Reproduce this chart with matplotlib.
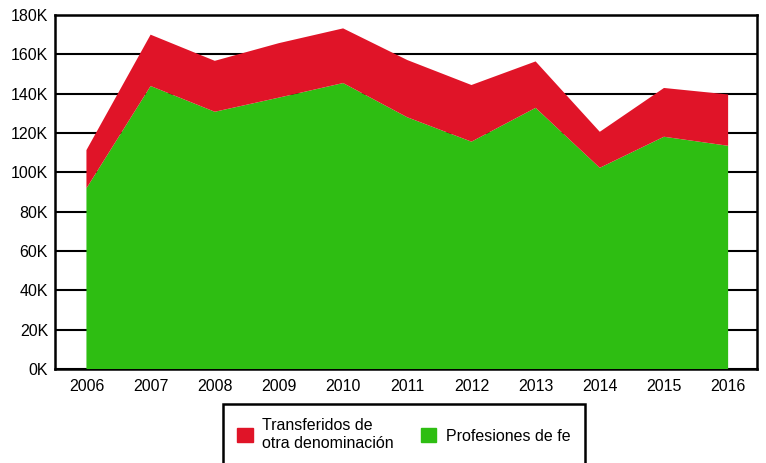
import matplotlib
matplotlib.use("Agg")
import matplotlib.pyplot as plt
from matplotlib.patches import Patch
from matplotlib.ticker import FuncFormatter

years = ["2006", "2007", "2008", "2009", "2010", "2011", "2012", "2013", "2014", "2015", "2016"]
profesiones = [91900, 143900, 130800, 138000, 145400, 128000, 115600, 132800, 102300, 118100, 113500]
total = [111300, 170000, 156700, 165700, 173200, 157100, 144400, 156400, 120600, 142900, 139600]
transferidos = [t - p for t, p in zip(total, profesiones)]

red = "#E01428"
green = "#2EBE12"

plt.rcParams['font.family'] = ['Liberation Sans', 'DejaVu Sans']

fig = plt.figure(figsize=(7.66, 4.63), dpi=100)
ax = fig.add_axes([55/766, 1-369/463, (757-55)/766, (369-15)/463])

x = list(range(len(years)))
ax.stackplot(x, profesiones, transferidos, colors=[green, red], linewidth=0, zorder=3)

ax.set_ylim(0, 180000)
ax.set_xlim(-0.49, 10.45)
ax.set_yticks(range(0, 180001, 20000))
ax.yaxis.set_major_formatter(FuncFormatter(lambda v, p: f"{int(v/1000)}K"))
ax.set_xticks(x)
ax.set_xticklabels(years)
ax.grid(axis='y', color='black', linewidth=1.5, zorder=1)
ax.set_axisbelow(True)
ax.tick_params(axis='both', length=0, labelsize=11.5, colors='black')
ax.tick_params(axis='y', pad=5)
ax.tick_params(axis='x', pad=7)
for s in ['left', 'top', 'right', 'bottom']:
    ax.spines[s].set_linewidth(1.8)
    ax.spines[s].set_color('black')
    ax.spines[s].set_zorder(2)

handles = [Patch(color=red, label="Transferidos de\notra denominación"),
           Patch(color=green, label="Profesiones de fe")]
leg = fig.legend(handles=handles, loc='upper left', bbox_to_anchor=(223/766, 1-404/463),
                 ncol=2, frameon=True, fancybox=False, fontsize=11.5, framealpha=1,
                 handlelength=0.95, handleheight=0.95, handletextpad=0.6,
                 columnspacing=1.7, borderpad=0.9, borderaxespad=0)
leg.get_frame().set_edgecolor('black')
leg.get_frame().set_linewidth(1.8)

fig.savefig("out.png", dpi=100)
